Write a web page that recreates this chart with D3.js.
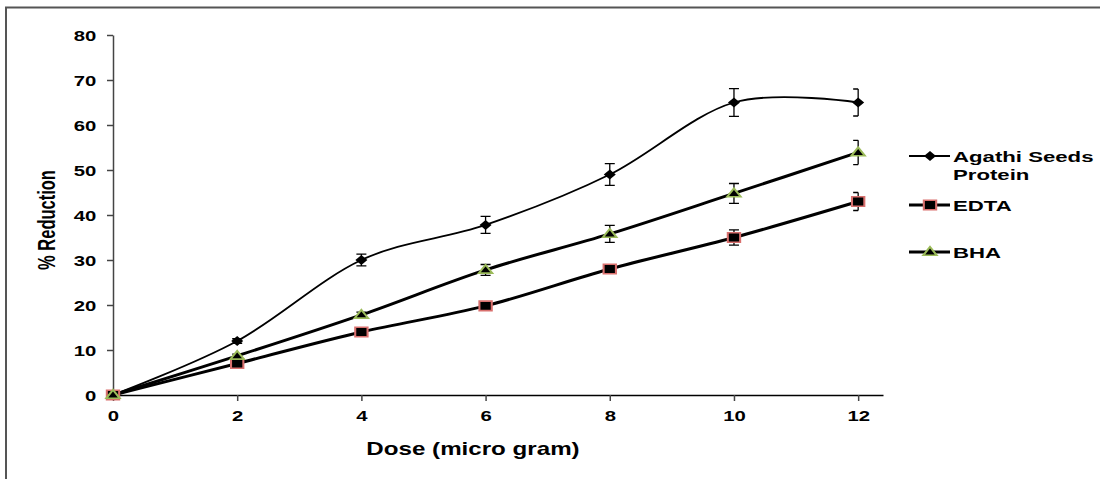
<!DOCTYPE html>
<html>
<head>
<meta charset="utf-8">
<script src="https://cdn.jsdelivr.net/npm/d3@7"></script>
<style>
  body { margin: 0; background: #fff; }
  text { font-family: "Liberation Sans", Arial, sans-serif; font-weight: bold; fill: #000; }
</style>
</head>
<body>
<svg id="chart"></svg>
<script>
const width = 1100;
const height = 479;
const sx = 1.4; // the picture is stretched sideways, text and markers too

const doses = [0, 2, 4, 6, 8, 10, 12];
const agathi = [0, 12, 30, 37.8, 49, 65, 65];
const agathiErr = [0, 0.5, 1.3, 1.9, 2.4, 3.1, 3];
const edta = [0, 7, 14, 19.8, 28, 35, 43];
const edtaErr = [0, 0.3, 0.4, 0.5, 0.8, 1.7, 2];
const bha = [0, 8.7, 17.8, 27.8, 35.8, 44.8, 53.9];
const bhaErr = [0, 0.4, 0.6, 1.2, 1.9, 2.2, 2.7];
const xTicks = [0, 2, 4, 6, 8, 10, 12];
const yTicks = [0, 10, 20, 30, 40, 50, 60, 70, 80];

const series = [
  {name: ["Agathi Seeds", "Protein"], values: agathi, err: agathiErr, shape: "diamond", lw: 1.8, ly: 156},
  {name: ["EDTA"], values: edta, err: edtaErr, shape: "square", lw: 3, ly: 205},
  {name: ["BHA"], values: bha, err: bhaErr, shape: "triangle", lw: 3, ly: 252}
];

const svg = d3.select("#chart").attr("width", width).attr("height", height);

// frame (only top and left edges show)
svg.append("path").attr("d", "M6,1000V7.5H1100")
  .attr("fill", "none").attr("stroke", "#555").attr("stroke-width", 2);

const x = d3.scaleLinear().domain([0, 12.4]).range([113, 883]);
const y = d3.scaleLinear().domain([0, 80]).range([395, 35]);

// axes
const gy = svg.append("g").attr("transform", "translate(113,0)")
  .call(d3.axisLeft(y).tickValues(yTicks).tickSize(6).tickSizeOuter(0));
gy.select(".domain").attr("stroke", "#444").attr("stroke-width", 1.5);
gy.selectAll(".tick line").attr("stroke", "#444").attr("stroke-width", 1.5);
gy.selectAll(".tick text").attr("x", -12).attr("dy", "0.36em")
  .attr("transform", `scale(${sx},1)`).style("font-size", "14.5px");

const gx = svg.append("g").attr("transform", "translate(0,395)")
  .call(d3.axisBottom(x).tickValues(xTicks).tickSize(6).tickSizeOuter(0));
gx.select(".domain").attr("stroke", "#000").attr("stroke-width", 1.5);
gx.selectAll(".tick line").attr("stroke", "#444").attr("stroke-width", 1.5);
gx.selectAll(".tick text").attr("y", 26).attr("dy", 0)
  .attr("transform", `scale(${sx},1)`).style("font-size", "14.5px");

// axis titles
svg.append("text")
  .attr("transform", `translate(55,220) scale(${sx},1) rotate(-90)`)
  .attr("text-anchor", "middle").style("font-size", "16.5px").text("% Reduction");
svg.append("text")
  .attr("transform", `translate(473,455) scale(1.38,1)`)
  .attr("text-anchor", "middle").style("font-size", "17.5px").text("Dose (micro gram)");

// markers
function marker(g, shape) {
  if (shape === "diamond") {
    g.append("path").attr("d", d3.symbol(d3.symbolSquare, 50)())
      .attr("transform", `scale(1.2,1) rotate(45)`).attr("fill", "#000");
  } else if (shape === "square") {
    g.append("path").attr("d", d3.symbol(d3.symbolSquare, 90)())
      .attr("transform", `scale(1.3,1)`).attr("fill", "#000")
      .attr("stroke", "#d9706e").attr("stroke-width", 1.6);
  } else {
    g.append("path").attr("d", d3.symbol(d3.symbolTriangle, 40)())
      .attr("transform", `translate(0,0.5) scale(1.4,1)`).attr("fill", "#000")
      .attr("stroke", "#9bbb59").attr("stroke-width", 1.6);
  }
}

const line = d3.line().curve(d3.curveCardinal.tension(0))
  .x((d, i) => x(doses[i])).y(d => y(d));

const clipEnd = x(12);

series.forEach(s => {
  svg.append("path").datum(s.values)
    .attr("d", line).attr("fill", "none")
    .attr("stroke", "#000").attr("stroke-width", s.lw);
});

series.forEach(s => {
  const eg = svg.append("g").attr("stroke", "#000").attr("stroke-width", 1.3).attr("fill", "none");
  doses.forEach((d, i) => {
    if (i === 0) return;
    const cx = x(d), e = s.err[i];
    const y1 = y(s.values[i] + e), y2 = y(s.values[i] - e);
    const cl = cx - 5, cr = Math.min(cx + 5, clipEnd);
    eg.append("path").attr("d", `M${cx},${y1}V${y2}M${cl},${y1}H${cr}M${cl},${y2}H${cr}`);
  });
  doses.forEach((d, i) => {
    const g = svg.append("g").attr("transform", `translate(${x(d)},${y(s.values[i])})`);
    marker(g, s.shape);
  });
});

// legend
series.forEach(s => {
  const lg = svg.append("g").attr("transform", `translate(909,${s.ly})`);
  lg.append("line").attr("x1", 0).attr("x2", 41)
    .attr("stroke", "#000").attr("stroke-width", s.lw);
  const m = lg.append("g").attr("transform", "translate(21,0)");
  marker(m, s.shape);
  s.name.forEach((t, k) => {
    lg.append("text")
      .attr("transform", `translate(44,${5.5 + k * 18}) scale(1.45,1)`)
      .style("font-size", "15.3px").text(t);
  });
});
</script>
</body>
</html>
